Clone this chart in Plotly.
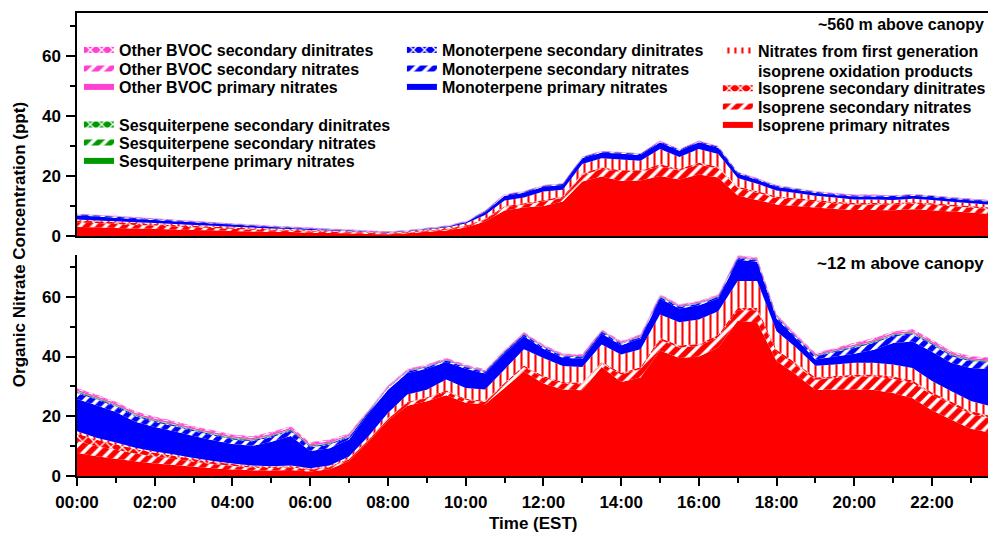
import plotly.graph_objects as go

# ---------------- data ----------------
time_labels = ["00:00","00:30","01:00","01:30","02:00","02:30","03:00","03:30","04:00","04:30","05:00","05:30",
               "06:00","06:30","07:00","07:30","08:00","08:30","09:00","09:30","10:00","10:30","11:00","11:30",
               "12:00","12:30","13:00","13:30","14:00","14:30","15:00","15:30","16:00","16:30","17:00","17:30",
               "18:00","18:30","19:00","19:30","20:00","20:30","21:00","21:30","22:00","22:30","23:00","23:30"]
tick_labels = ["00:00","02:00","04:00","06:00","08:00","10:00","12:00","14:00","16:00","18:00","20:00","22:00"]

# ~560 m above canopy (top panel)
top_iso_pri = [3.0,2.9,2.7,2.5,2.4,2.2,2.0,1.9,1.7,1.5,1.4,1.3,
               1.1,1.0,0.9,0.7,0.6,0.9,1.4,1.8,2.8,4.8,8.5,9.5,
               10.0,11.5,18.2,19.8,18.3,18.5,20.0,18.8,20.5,19.5,13.5,12.0,
               10.5,10.0,9.5,9.0,8.7,8.7,8.6,8.9,8.6,8.2,7.8,7.4]
top_iso_sec = [1.5,1.4,1.3,1.2,1.1,1.0,0.9,0.8,0.7,0.6,0.5,0.5,
               0.4,0.4,0.3,0.3,0.2,0.2,0.3,0.3,0.4,0.6,1.0,1.0,
               1.5,1.2,2.0,2.5,3.0,2.8,3.2,3.0,3.2,3.0,2.5,2.4,
               2.2,2.1,2.0,1.9,1.8,1.8,1.8,1.9,1.8,1.7,1.7,1.6]
top_iso_di = [0.7,0.6,0.6,0.6,0.5,0.5,0.5,0.4,0.4,0.4,0.3,0.3,
              0.3,0.2,0.2,0.2,0.2,0.2,0.2,0.3,0.3,0.3,0.4,0.4,
              0.5,0.5,0.6,0.6,0.6,0.6,0.7,0.6,0.7,0.6,0.5,0.5,
              0.5,0.5,0.5,0.5,0.5,0.5,0.5,0.5,0.5,0.5,0.5,0.5]
top_iso_1st = [0.3,0.3,0.3,0.3,0.3,0.3,0.3,0.3,0.3,0.3,0.3,0.2,
               0.2,0.2,0.2,0.1,0.1,0.2,0.3,0.4,0.7,1.3,1.9,1.9,
               2.8,2.2,3.2,3.0,3.6,3.2,5.1,3.9,4.6,4.2,2.8,2.5,
               2.0,1.7,1.4,1.4,1.2,1.2,1.1,1.1,1.1,1.0,0.9,0.9]
top_mono_pri = [1.4,1.3,1.2,1.1,1.0,0.9,0.9,0.8,0.7,0.6,0.5,0.4,
                0.35,0.25,0.15,0.1,0.1,0.1,0.15,0.25,0.35,0.9,1.6,1.6,
                1.6,1.6,1.9,1.9,1.9,1.9,2.2,2.1,2.2,2.1,1.5,1.3,
                1.2,1.1,1.0,0.9,1.0,1.0,1.0,1.0,1.0,1.0,1.0,1.0]
top_mono_sec = [0.3,0.3,0.3,0.3,0.3,0.3,0.15,0.15,0.15,0.15,0.15,0.15,
                0.15,0.15,0.15,0.1,0.1,0.1,0.1,0.15,0.15,0.3,0.3,0.3,
                0.3,0.3,0.3,0.3,0.3,0.3,0.3,0.3,0.3,0.3,0.3,0.3,
                0.3,0.3,0.3,0.3,0.3,0.3,0.3,0.3,0.3,0.3,0.3,0.3]
top_mono_di = [0.05,0.05,0.05,0.05,0.05,0.05,0.05,0.05,0.05,0.05,0.05,0.05,
               0.05,0.05,0.05,0.05,0.05,0.05,0.05,0.05,0.05,0.05,0.05,0.05,
               0.05,0.05,0.05,0.05,0.05,0.05,0.05,0.05,0.05,0.05,0.05,0.05,
               0.05,0.05,0.05,0.05,0.05,0.05,0.05,0.05,0.05,0.05,0.05,0.05]
top_sesq_pri = [0.03,0.03,0.03,0.03,0.03,0.03,0.03,0.03,0.03,0.03,0.03,0.03,
                0.03,0.03,0.03,0.03,0.03,0.03,0.03,0.03,0.03,0.03,0.03,0.03,
                0.03,0.03,0.03,0.03,0.03,0.03,0.03,0.03,0.03,0.03,0.03,0.03,
                0.03,0.03,0.03,0.03,0.03,0.03,0.03,0.03,0.03,0.03,0.03,0.03]
top_sesq_sec = [0.02,0.02,0.02,0.02,0.02,0.02,0.02,0.02,0.02,0.02,0.02,0.02,
                0.02,0.02,0.02,0.02,0.02,0.02,0.02,0.02,0.02,0.02,0.02,0.02,
                0.02,0.02,0.02,0.02,0.02,0.02,0.02,0.02,0.02,0.02,0.02,0.02,
                0.02,0.02,0.02,0.02,0.02,0.02,0.02,0.02,0.02,0.02,0.02,0.02]
top_sesq_di = [0.01,0.01,0.01,0.01,0.01,0.01,0.01,0.01,0.01,0.01,0.01,0.01,
               0.01,0.01,0.01,0.01,0.01,0.01,0.01,0.01,0.01,0.01,0.01,0.01,
               0.01,0.01,0.01,0.01,0.01,0.01,0.01,0.01,0.01,0.01,0.01,0.01,
               0.01,0.01,0.01,0.01,0.01,0.01,0.01,0.01,0.01,0.01,0.01,0.01]
top_other_pri = [0.1,0.1,0.1,0.1,0.1,0.1,0.1,0.1,0.1,0.1,0.1,0.1,
                 0.1,0.1,0.1,0.1,0.1,0.1,0.1,0.1,0.1,0.1,0.1,0.1,
                 0.1,0.1,0.1,0.1,0.1,0.1,0.1,0.1,0.1,0.1,0.1,0.1,
                 0.1,0.1,0.1,0.1,0.1,0.1,0.1,0.1,0.1,0.1,0.1,0.1]
top_other_sec = [0.06,0.06,0.06,0.06,0.06,0.06,0.06,0.06,0.06,0.06,0.06,0.06,
                 0.06,0.06,0.06,0.06,0.06,0.06,0.06,0.06,0.06,0.06,0.06,0.06,
                 0.06,0.06,0.06,0.06,0.06,0.06,0.06,0.06,0.06,0.06,0.06,0.06,
                 0.06,0.06,0.06,0.06,0.06,0.06,0.06,0.06,0.06,0.06,0.06,0.06]
top_other_di = [0.04,0.04,0.04,0.04,0.04,0.04,0.04,0.04,0.04,0.04,0.04,0.04,
                0.04,0.04,0.04,0.04,0.04,0.04,0.04,0.04,0.04,0.04,0.04,0.04,
                0.04,0.04,0.04,0.04,0.04,0.04,0.04,0.04,0.04,0.04,0.04,0.04,
                0.04,0.04,0.04,0.04,0.04,0.04,0.04,0.04,0.04,0.04,0.04,0.04]

# ~12 m above canopy (bottom panel)
bot_iso_pri = [7.8,6.6,5.8,4.9,4.2,3.7,3.1,2.6,2.2,1.9,1.8,2.0,
               1.5,2.3,5.0,11.5,18.5,23.5,25.0,27.0,24.5,24.0,29.5,35.0,
               31.0,29.0,28.7,36.5,31.5,33.0,42.0,39.5,40.0,43.0,52.0,51.5,
               38.5,34.0,28.8,29.0,29.0,28.8,27.8,26.0,22.0,18.8,15.8,14.5]
bot_iso_sec = [4.0,3.4,3.0,2.6,2.3,2.0,1.7,1.4,1.2,0.9,0.9,0.9,
               0.6,0.6,0.6,0.5,0.6,1.0,1.0,1.2,1.0,0.8,1.2,1.5,
               2.0,2.0,2.0,1.2,2.5,2.8,3.5,3.5,3.5,3.5,3.5,4.0,
               3.0,3.0,3.4,3.8,4.2,4.5,4.8,5.2,5.2,5.2,5.0,4.8]
bot_iso_di = [2.4,2.1,1.8,1.5,1.3,1.1,0.9,0.7,0.6,0.5,0.4,0.4,
              0.3,0.3,0.3,0.3,0.3,0.3,0.4,0.4,0.4,0.4,0.5,0.5,
              0.5,0.5,0.5,0.5,0.6,0.6,0.7,0.7,0.7,0.7,0.8,0.8,
              0.8,0.8,0.8,0.7,0.7,0.7,0.7,0.8,0.8,0.9,0.9,0.9]
bot_iso_1st = [0.8,0.7,0.6,0.5,0.4,0.4,0.3,0.3,0.2,0.2,0.2,0.2,
               0.2,0.3,0.6,1.0,1.7,2.5,2.5,3.7,3.6,3.8,4.5,5.4,
               6.0,5.3,5.3,5.8,6.1,6.0,7.9,7.8,8.2,8.0,9.0,9.0,
               6.2,5.2,3.9,3.8,4.0,3.9,4.0,4.2,3.8,3.5,3.4,3.2]
bot_mono_pri = [10.8,10.9,10.2,8.7,8.2,7.8,7.4,7.0,6.5,6.6,8.2,9.9,
                5.8,5.8,5.7,7.6,7.8,7.2,7.0,5.9,6.4,5.3,5.3,4.4,
                3.1,2.8,2.8,3.7,3.1,3.6,5.3,4.6,4.8,4.2,7.2,6.4,
                4.2,3.0,2.1,2.7,3.0,4.4,7.2,8.8,9.8,9.4,11.1,12.4]
bot_mono_sec = [2.0,1.9,1.8,1.8,1.7,1.7,1.6,1.6,1.5,1.5,1.5,1.6,
                1.2,1.2,0.8,0.5,0.5,0.5,0.5,0.5,0.5,0.5,0.5,0.5,
                0.5,0.5,0.5,0.5,0.5,0.5,0.5,0.5,0.5,0.5,0.5,0.5,
                0.5,0.5,1.0,1.5,2.0,2.2,2.3,2.4,2.4,2.3,2.2,2.1]
bot_mono_di = [0.3,0.3,0.3,0.3,0.3,0.3,0.3,0.3,0.3,0.3,0.3,0.3,
               0.3,0.3,0.2,0.15,0.15,0.15,0.15,0.15,0.15,0.15,0.15,0.15,
               0.15,0.15,0.15,0.15,0.15,0.15,0.15,0.15,0.15,0.15,0.15,0.15,
               0.15,0.15,0.2,0.25,0.3,0.3,0.3,0.3,0.3,0.3,0.3,0.3]
bot_sesq_pri = [0.2,0.2,0.2,0.2,0.2,0.2,0.2,0.2,0.2,0.2,0.2,0.2,
                0.2,0.2,0.15,0.1,0.1,0.1,0.1,0.1,0.1,0.1,0.1,0.1,
                0.1,0.1,0.1,0.1,0.1,0.1,0.1,0.1,0.1,0.1,0.1,0.1,
                0.1,0.1,0.15,0.17,0.2,0.2,0.2,0.2,0.2,0.2,0.2,0.2]
bot_sesq_sec = [0.1,0.1,0.1,0.1,0.1,0.1,0.1,0.1,0.1,0.1,0.1,0.1,
                0.1,0.1,0.07,0.05,0.05,0.05,0.05,0.05,0.05,0.05,0.05,0.05,
                0.05,0.05,0.05,0.05,0.05,0.05,0.05,0.05,0.05,0.05,0.05,0.05,
                0.05,0.05,0.07,0.08,0.1,0.1,0.1,0.1,0.1,0.1,0.1,0.1]
bot_sesq_di = [0.05,0.05,0.05,0.05,0.05,0.05,0.05,0.05,0.05,0.05,0.05,0.05,
               0.05,0.05,0.03,0.03,0.03,0.03,0.03,0.03,0.03,0.03,0.03,0.03,
               0.03,0.03,0.03,0.03,0.03,0.03,0.03,0.03,0.03,0.03,0.03,0.03,
               0.03,0.03,0.03,0.04,0.05,0.05,0.05,0.05,0.05,0.05,0.05,0.05]
bot_other_pri = [0.5,0.5,0.5,0.5,0.5,0.5,0.5,0.5,0.5,0.5,0.5,0.5,
                 0.5,0.5,0.4,0.3,0.3,0.3,0.3,0.3,0.3,0.3,0.3,0.3,
                 0.3,0.3,0.3,0.3,0.3,0.3,0.3,0.3,0.3,0.3,0.3,0.3,
                 0.3,0.3,0.4,0.45,0.5,0.5,0.5,0.5,0.5,0.5,0.5,0.5]
bot_other_sec = [0.35,0.35,0.35,0.35,0.35,0.35,0.35,0.35,0.35,0.35,0.35,0.35,
                 0.35,0.35,0.25,0.2,0.2,0.2,0.2,0.2,0.2,0.2,0.2,0.2,
                 0.2,0.2,0.2,0.2,0.2,0.2,0.2,0.2,0.2,0.2,0.2,0.2,
                 0.2,0.2,0.25,0.28,0.35,0.35,0.35,0.35,0.35,0.35,0.35,0.35]
bot_other_di = [0.2,0.2,0.2,0.2,0.2,0.2,0.2,0.2,0.2,0.2,0.2,0.2,
                0.2,0.2,0.1,0.1,0.1,0.1,0.1,0.1,0.1,0.1,0.1,0.1,
                0.1,0.1,0.1,0.1,0.1,0.1,0.1,0.1,0.1,0.1,0.1,0.1,
                0.1,0.1,0.1,0.13,0.2,0.2,0.2,0.2,0.2,0.2,0.2,0.2]

# ---------------- helpers ----------------
def to_hours(lbl):
    hh, mm = lbl.split(":")
    return int(hh) + int(mm) / 60.0

x_hours = [to_hours(t) for t in time_labels]
tick_vals = [to_hours(t) for t in tick_labels]

RED = "#ff0000"
BLUE = "#0000ff"
GREEN = "#009a00"
MAGENTA = "#ff40d0"
FONT = "Liberation Sans, Arial, sans-serif"

# the page margin is removed by a small post script, so figure px == page px
W, H = 991, 536
ML, MR, MT, MB = 77, 0, 13, 60
ph = H - MT - MB
pw = W - ML - MR


def fy(page_y):
    return (H - MB - page_y) / ph


def fx(page_x):
    return (page_x - ML) / pw


# series, bottom of stack first: (key, label, colour, pattern kind, legend text x, legend text centre y, valign)
series = [
    ("iso_pri", "Isoprene primary nitrates", RED, "solid", 760, 125, "middle"),
    ("iso_sec", "Isoprene secondary nitrates", RED, "hatch", 760, 106.7, "middle"),
    ("iso_di", "Isoprene secondary dinitrates", RED, "cross", 760, 88.3, "middle"),
    ("iso_1st", "Nitrates from first generation<br>isoprene oxidation products", RED, "wave", 760, 61, "top"),
    ("mono_pri", "Monoterpene primary nitrates", BLUE, "solid", 443, 87, "middle"),
    ("mono_sec", "Monoterpene secondary nitrates", BLUE, "hatch", 443, 68.5, "middle"),
    ("mono_di", "Monoterpene secondary dinitrates", BLUE, "cross", 443, 50, "middle"),
    ("sesq_pri", "Sesquiterpene primary nitrates", GREEN, "solid", 119, 161, "middle"),
    ("sesq_sec", "Sesquiterpene secondary nitrates", GREEN, "hatch", 119, 142.7, "middle"),
    ("sesq_di", "Sesquiterpene secondary dinitrates", GREEN, "cross", 119, 124.5, "middle"),
    ("other_pri", "Other BVOC primary nitrates", MAGENTA, "solid", 119, 87, "middle"),
    ("other_sec", "Other BVOC secondary nitrates", MAGENTA, "hatch", 119, 68.5, "middle"),
    ("other_di", "Other BVOC secondary dinitrates", MAGENTA, "cross", 119, 50, "middle"),
]

top_data = {"iso_pri": top_iso_pri, "iso_sec": top_iso_sec, "iso_di": top_iso_di, "iso_1st": top_iso_1st,
            "mono_pri": top_mono_pri, "mono_sec": top_mono_sec, "mono_di": top_mono_di,
            "sesq_pri": top_sesq_pri, "sesq_sec": top_sesq_sec, "sesq_di": top_sesq_di,
            "other_pri": top_other_pri, "other_sec": top_other_sec, "other_di": top_other_di}
bot_data = {"iso_pri": bot_iso_pri, "iso_sec": bot_iso_sec, "iso_di": bot_iso_di, "iso_1st": bot_iso_1st,
            "mono_pri": bot_mono_pri, "mono_sec": bot_mono_sec, "mono_di": bot_mono_di,
            "sesq_pri": bot_sesq_pri, "sesq_sec": bot_sesq_sec, "sesq_di": bot_sesq_di,
            "other_pri": bot_other_pri, "other_sec": bot_other_sec, "other_di": bot_other_di}


def style(color, kind):
    if kind == "solid":
        return color, None
    if kind == "hatch":
        return color, dict(shape="/", fgcolor="white", bgcolor=color, size=9, solidity=0.4, fillmode="replace")
    if kind == "cross":
        return color, dict(shape="x", fgcolor="white", bgcolor=color, size=8, solidity=0.3, fillmode="replace")
    return "white", dict(shape="|", fgcolor=color, bgcolor="white", size=7, solidity=0.3, fillmode="replace")


legfont = dict(family=FONT, size=16, color="black", weight="bold")
legend_layout = {}
fig = go.Figure()
for i, (key, label, color, kind, lx, ly, valign) in enumerate(series):
    leg_name = "legend" if i == 0 else "legend%d" % (i + 1)
    legend_layout[leg_name] = dict(x=fx(lx - 40), y=fy(ly), xanchor="left", yanchor="middle",
                                   font=legfont, bgcolor="rgba(0,0,0,0)", borderwidth=0, valign=valign)
    for panel, data, xa, ya, show in (("top", top_data, "x2", "y", True), ("bot", bot_data, "x", "y2", False)):
        fillcolor, pattern = style(color, kind)
        kw = dict(
            x=x_hours, y=data[key], name=label, mode="none", stackgroup=panel,
            fillcolor=fillcolor, xaxis=xa, yaxis=ya, showlegend=show,
            legend=leg_name, legendgroup=key + panel, hoverinfo="skip",
        )
        if pattern is not None:
            kw["fillpattern"] = pattern
        fig.add_trace(go.Scatter(**kw))

tickfont = dict(family=FONT, size=17, color="black", weight="bold")

yax = dict(range=[0, 74.3], tickvals=[0, 20, 40, 60], ticks="outside", ticklen=9, tickwidth=1.5,
           tickcolor="black", showline=True, linecolor="black", linewidth=1.5, showgrid=False,
           zeroline=False, tickfont=tickfont, ticklabelstandoff=2,
           minor=dict(tickvals=[10, 30, 50, 70], ticks="outside", ticklen=5, tickwidth=1.5, tickcolor="black"))

fig.update_layout(
    width=W, height=H, margin=dict(l=ML, r=MR, t=MT, b=MB),
    paper_bgcolor="white", plot_bgcolor="white",
    font=dict(family=FONT, color="black"),
    xaxis=dict(domain=[0, 1], anchor="y2", range=[0, 23.44], tickvals=tick_vals, ticktext=tick_labels,
               ticks="outside", ticklen=8, tickwidth=1.5, tickcolor="black", showline=True,
               linecolor="black", linewidth=1.5, showgrid=False, zeroline=False, tickfont=tickfont,
               ticklabelstandoff=2,
               minor=dict(dtick=1, tick0=0, ticks="outside", ticklen=5, tickwidth=1.5, tickcolor="black")),
    xaxis2=dict(domain=[0, 1], anchor="y", matches="x", showticklabels=False, ticks="",
                showline=True, mirror=True, linecolor="black", linewidth=1.5, showgrid=False, zeroline=False),
    yaxis=dict(domain=[fy(236), 1.0], anchor="x2", **yax),
    yaxis2=dict(domain=[0, fy(255)], anchor="x", **{**yax, "range": [0, 74.0]}),
    annotations=[
        dict(text="~560 m above canopy", xref="paper", yref="paper", x=fx(989), y=fy(24),
             xanchor="right", yanchor="middle", showarrow=False, font=dict(family=FONT, size=16, weight="bold")),
        dict(text="~12 m above canopy", xref="paper", yref="paper", x=fx(989), y=fy(263),
             xanchor="right", yanchor="middle", showarrow=False, font=dict(family=FONT, size=17, weight="bold")),
        dict(text="Organic Nitrate Concentration (ppt)", xref="paper", yref="paper", x=fx(19), y=fy(245),
             xanchor="center", yanchor="middle", textangle=-90, showarrow=False,
             font=dict(family=FONT, size=17, weight="bold")),
        dict(text="Time (EST)", xref="paper", yref="paper", x=fx(534), y=fy(523),
             xanchor="center", yanchor="middle", showarrow=False, font=dict(family=FONT, size=17, weight="bold")),
    ],
    **legend_layout,
)

fig.write_html(
    "out.html",
    config={"displayModeBar": False},
    post_script="document.documentElement.style.margin='0';document.body.style.margin='0';"
                "document.body.style.overflow='hidden';document.documentElement.style.overflow='hidden';",
)
